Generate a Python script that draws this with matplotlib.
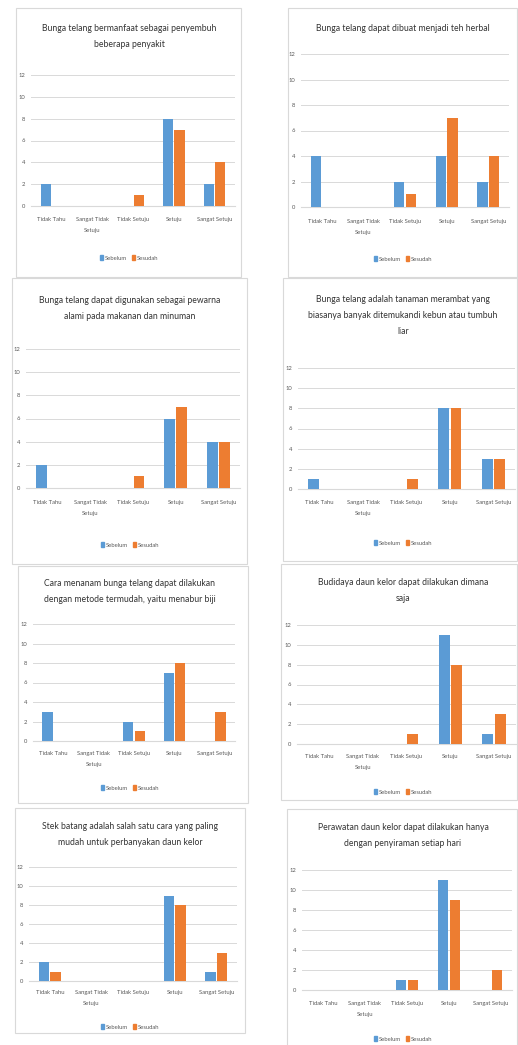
import matplotlib
matplotlib.use("Agg")
import matplotlib.pyplot as plt
from matplotlib.patches import Rectangle, Patch
import numpy as np

plt.rcParams['font.family'] = ['Lato', 'DejaVu Sans']

W, H = 518, 1045

kategori = ["Tidak Tahu", "Sangat Tidak\nSetuju", "Tidak Setuju", "Setuju", "Sangat Setuju"]

judul = [
    "Bunga telang bermanfaat sebagai penyembuh\nbeberapa penyakit",
    "Bunga telang dapat dibuat menjadi teh herbal",
    "Bunga telang dapat digunakan sebagai pewarna\nalami pada makanan dan minuman",
    "Bunga telang adalah tanaman merambat yang\nbiasanya banyak ditemukandi kebun atau tumbuh\nliar",
    "Cara menanam bunga telang dapat dilakukan\ndengan metode termudah, yaitu menabur biji",
    "Budidaya daun kelor dapat dilakukan dimana\nsaja",
    "Stek batang adalah salah satu cara yang paling\nmudah untuk perbanyakan daun kelor",
    "Perawatan daun kelor dapat dilakukan hanya\ndengan penyiraman setiap hari",
]

sebelum = [
    [2, 0, 0, 8, 2],
    [4, 0, 2, 4, 2],
    [2, 0, 0, 6, 4],
    [1, 0, 0, 8, 3],
    [3, 0, 2, 7, 0],
    [0, 0, 0, 11, 1],
    [2, 0, 0, 9, 1],
    [0, 0, 1, 11, 0],
]
sesudah = [
    [0, 0, 1, 7, 4],
    [0, 0, 1, 7, 4],
    [0, 0, 1, 7, 4],
    [0, 0, 1, 8, 3],
    [0, 0, 1, 8, 3],
    [0, 0, 1, 8, 3],
    [1, 0, 0, 8, 3],
    [0, 0, 1, 9, 2],
]

# layout in pixels: box (x0, y0, x1, y1), axes (x0, x1, ytop, ybottom),
# title first line y, title center x, category label y, legend y
panel = [
    dict(box=(16, 8, 241, 277), ax=(31, 235, 75, 206), ty=30, tx=129, cy=220, ly=258),
    dict(box=(288, 8, 517, 277), ax=(301, 509, 54, 207), ty=30, tx=403, cy=222, ly=259),
    dict(box=(12, 278, 247, 564), ax=(26, 240, 349, 488), ty=302, tx=130, cy=503, ly=545),
    dict(box=(283, 278, 517, 561), ax=(298, 515, 368, 489), ty=301, tx=403, cy=503, ly=543),
    dict(box=(18, 566, 248, 803), ax=(33, 235, 624, 741), ty=585, tx=130, cy=754, ly=788),
    dict(box=(281, 564, 517, 800), ax=(297, 516, 625, 744), ty=584, tx=403, cy=757, ly=792),
    dict(box=(15, 808, 245, 1033), ax=(29, 237, 867, 981), ty=828, tx=130, cy=993, ly=1027),
    dict(box=(287, 809, 517, 1050), ax=(302, 512, 870, 990), ty=829, tx=403, cy=1004, ly=1039),
]

biru = "#5B9BD5"
oranye = "#ED7D31"
abu = "#595959"

fig = plt.figure(figsize=(W / 100, H / 100), dpi=100)
fig.patch.set_facecolor("white")

x = np.arange(len(kategori))
lebar = 0.25

for i, p in enumerate(panel):
    bx0, by0, bx1, by1 = p["box"]
    fig.add_artist(Rectangle((bx0 / W, 1 - by1 / H), (bx1 - bx0) / W, (by1 - by0) / H,
                             transform=fig.transFigure, fill=False, edgecolor="#d9d9d9",
                             lw=0.8, zorder=-1))
    ax0, ax1, ayt, ayb = p["ax"]
    ax = fig.add_axes([ax0 / W, 1 - ayb / H, (ax1 - ax0) / W, (ayb - ayt) / H])
    ax.bar(x - 0.14, sebelum[i], lebar, color=biru, zorder=3)
    ax.bar(x + 0.14, sesudah[i], lebar, color=oranye, zorder=3)
    ax.set_xlim(-0.5, 4.5)
    ax.set_ylim(0, 12)
    ax.set_yticks(range(0, 13, 2))
    ax.yaxis.grid(True, color="#d9d9d9", lw=0.7, zorder=0)
    ax.set_axisbelow(True)
    for s in ["top", "right", "left"]:
        ax.spines[s].set_visible(False)
    ax.spines["bottom"].set_color("#d9d9d9")
    ax.spines["bottom"].set_linewidth(0.8)
    ax.tick_params(axis="both", length=0, labelsize=4.2, colors=abu, pad=4)
    ax.set_xticks(x)
    ax.set_xticklabels([])
    ylab = -(p["cy"] - ayb - 3) / (ayb - ayt)
    for k, lab in enumerate(kategori):
        ax.text(k, ylab, lab, transform=ax.get_xaxis_transform(), fontsize=4.2, color=abu,
                ha="center", va="top", linespacing=2.6)
    ax.set_facecolor("none")
    fig.text(p["tx"] / W, 1 - (p["ty"] - 6) / H, judul[i], ha="center", va="top",
             fontsize=6.2, color="#333333", linespacing=2.0)
    hnd = [Patch(color=biru, label="Sebelum"), Patch(color=oranye, label="Sesudah")]
    leg = ax.legend(handles=hnd, loc="center", bbox_to_anchor=(p["tx"] / W, 1 - p["ly"] / H),
                    bbox_transform=fig.transFigure, ncol=2, frameon=False, fontsize=4.2,
                    handlelength=0.6, handleheight=1.0, handletextpad=0.3, columnspacing=0.8)
    for t in leg.get_texts():
        t.set_color(abu)

fig.savefig("out.png", dpi=100, facecolor="white")
